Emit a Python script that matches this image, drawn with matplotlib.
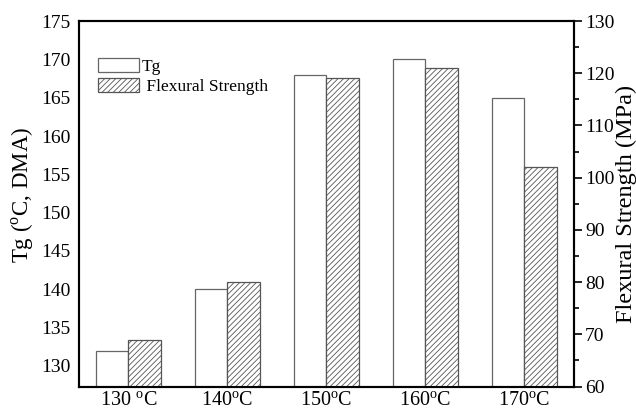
import matplotlib
matplotlib.use("Agg")
import matplotlib.pyplot as plt
import numpy as np
from matplotlib.ticker import MultipleLocator

plt.rcParams['font.family'] = ['Liberation Serif', 'DejaVu Serif']
plt.rcParams['mathtext.fontset'] = 'custom'
plt.rcParams['mathtext.rm'] = 'Liberation Serif'
plt.rcParams['hatch.linewidth'] = 0.6
plt.rcParams['hatch.color'] = '#555555'

# data
temps = ['130 ', '140', '150', '160', '170']
tg = [132, 140, 168, 170, 165]
flexural = [69, 80, 119, 121, 102]

fig = plt.figure(figsize=(6.36, 4.13), dpi=100)
ax = fig.add_axes([0.124, 0.064, 0.7785, 0.885])
ax2 = ax.twinx()

x = np.arange(len(temps))
w = 0.33
b1 = ax.bar(x - w / 2, tg, width=w, color='white', edgecolor='#666666', linewidth=0.9,
            label='Tg')
b2 = ax2.bar(x + w / 2, flexural, width=w, color='white', edgecolor='#555555', linewidth=0.9,
             hatch='//////', label='Flexural Strength')

ax.set_xlim(-0.5, 4.5)
ax.set_ylim(127.3, 175)
ax2.set_ylim(60, 130)

ax.set_yticks(range(130, 176, 5))
ax.tick_params(axis='y', length=0, labelsize=14, pad=6)
ax.set_xticks(x)
ax.set_xticklabels([t + r'$^{\rm o}$C' for t in temps])
ax.tick_params(axis='x', length=0, labelsize=14.5, pad=4)

ax2.yaxis.set_major_locator(MultipleLocator(10))
ax2.yaxis.set_minor_locator(MultipleLocator(5))
ax2.tick_params(axis='y', which='major', direction='out', length=6, width=1.2, labelsize=14, pad=2)
ax2.tick_params(axis='y', which='minor', direction='out', length=3.5, width=1.2)

for a in (ax, ax2):
    for s in a.spines.values():
        s.set_linewidth(1.5)

ax.set_ylabel(r'Tg ($^{\rm o}$C, DMA)', fontsize=16.5)
ax.yaxis.set_label_coords(-0.087, 0.524)
ax2.set_ylabel('Flexural Strength (MPa)', fontsize=17.5, labelpad=1)

ax2.legend([b1, b2], ['Tg', ' Flexural Strength'], loc='upper left',
           bbox_to_anchor=(0.038, 0.9), frameon=False, fontsize=12.5,
           handlelength=2.36, handleheight=0.86, handletextpad=0.2,
           labelspacing=0.2, borderpad=0, borderaxespad=0)

fig.savefig('out.png', dpi=100)
